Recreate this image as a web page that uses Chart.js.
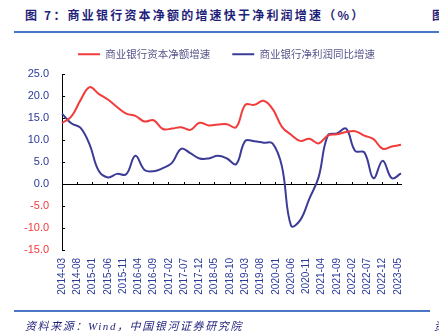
<!DOCTYPE html>
<html>
<head>
<meta charset="utf-8">
<script src="https://cdn.jsdelivr.net/npm/chart.js@4"></script>
<style>
    html, body { margin: 0; padding: 0; background: #fff; }
    body { width: 439px; height: 332px; position: relative; overflow: hidden; }
    .title { position: absolute; left: 25px; top: 6px; font: bold 12px 'Noto Sans CJK SC', sans-serif; color: #1f1f7a; letter-spacing: 2.2px; white-space: nowrap; }
    .edge-top { position: absolute; left: 432px; top: 6px; font: bold 12px 'Noto Sans CJK SC', sans-serif; color: #1f1f7a; }
    .rule { position: absolute; left: 14px; height: 2px; background: #4a76c6; }
    .source { position: absolute; left: 25px; top: 317px; font: italic 11px 'Liberation Serif', 'Noto Sans CJK SC', serif; color: #1f1f7a; letter-spacing: 1.6px; white-space: nowrap; }
    .edge-bottom { position: absolute; left: 434px; top: 317px; font: italic 11px 'Noto Sans CJK SC', serif; color: #1f1f7a; }
    .chart-box { position: absolute; left: 0; top: 0; width: 439px; height: 332px; }
</style>
</head>
<body>
<div class="title">图 7：商业银行资本净额的增速快于净利润增速（%）</div>
<div class="edge-top">图</div>
<div class="rule" style="top:31px; width:425px;"></div>
<div class="chart-box"><canvas id="bankChart"></canvas></div>
<div class="rule" style="top:310px; width:416px;"></div>
<div class="source">资料来源：Wind，中国银河证券研究院</div>
<div class="edge-bottom">资</div>

<script>
// monthly categories 2014-03 .. 2023-06, data is quarterly
const months = [];
for (let y = 2014, m = 3; y < 2023 || (y === 2023 && m <= 6); m++) {
    if (m > 12) { m = 1; y++; }
    months.push(y + '-' + String(m).padStart(2, '0'));
}

// quarter-end readings (03, 06, 09, 12), 2014Q1 .. 2023Q2
const capitalGrowth = [
    13.9, 15.3, 19.0, 22.0, 20.5, 19.2, 17.5, 16.0, 15.5, 14.2,
    14.5, 12.5, 12.6, 12.9, 12.3, 13.9, 13.3, 13.5, 13.6, 12.9,
    18.0, 18.0, 18.9, 17.0, 13.0, 11.2, 9.8, 10.3, 9.2, 11.0,
    11.3, 11.8, 12.0, 11.0, 10.2, 8.0, 8.5, 8.9
];
const profitGrowth = [
    16.0, 13.8, 12.8, 9.0, 3.0, 1.5, 2.3, 2.2, 6.4, 3.2,
    2.9, 3.6, 4.8, 8.0, 7.0, 5.8, 5.8, 6.4, 5.8, 4.5,
    9.8, 9.7, 9.4, 9.2, 4.0, -9.5, -8.2, -3.3, 1.5, 11.0,
    11.5, 12.6, 7.5, 7.2, 1.3, 5.3, 1.3, 2.4
];

const yMin = -15;
const yMax = 25;
const yStep = 5;

function toMonthly(quarterly) {
    const out = months.map(() => null);
    quarterly.forEach((v, q) => { out[q * 3] = v; });
    return out;
}

const navy = '#2b3a98';
const red = '#f03c3c';

// fixed legend height, and nudge the legend right to sit where the picture's does
const legendTweak = {
    id: 'legendTweak',
    beforeInit(chart) {
        const fit = chart.legend.fit;
        chart.legend.fit = function () {
            fit.bind(chart.legend)();
            this.height = 47;
        };
    },
    afterLayout(chart) {
        chart.legend.left += 22;
        chart.legend.right += 22;
    }
};

Chart.defaults.font.family = "'Liberation Sans', Arial, sans-serif";

new Chart(document.getElementById('bankChart'), {
    type: 'line',
    data: {
        labels: months,
        datasets: [
            {
                label: '商业银行资本净额增速',
                data: toMonthly(capitalGrowth),
                borderColor: '#f23c3c',
                backgroundColor: '#f23c3c',
                borderWidth: 2,
                pointRadius: 0,
                tension: 0.4,
                spanGaps: true,
                xAxisID: 'x'
            },
            {
                label: '商业银行净利润同比增速',
                data: toMonthly(profitGrowth),
                borderColor: '#3c3c98',
                backgroundColor: '#3c3c98',
                borderWidth: 2,
                pointRadius: 0,
                tension: 0.4,
                spanGaps: true,
                xAxisID: 'x'
            }
        ]
    },
    options: {
        responsive: true,
        maintainAspectRatio: false,
        animation: false,
        layout: { padding: { left: 8, right: 38, top: 27, bottom: 37 } },
        plugins: {
            legend: {
                position: 'top',
                labels: {
                    usePointStyle: true,
                    pointStyle: 'line',
                    pointStyleWidth: 22,
                    padding: 22,
                    color: '#55558a',
                    font: { family: "'Noto Sans CJK SC', sans-serif", size: 10.5 }
                }
            },
            tooltip: { enabled: false }
        },
        scales: {
            y: {
                min: yMin,
                max: yMax,
                ticks: {
                    stepSize: yStep,
                    padding: 16,
                    font: { size: 11 },
                    color: c => (c.tick && c.tick.value < 0) ? red : navy,
                    callback: v => Number(v).toFixed(1)
                },
                grid: { drawOnChartArea: false, tickLength: -3, tickColor: '#000' },
                border: { color: '#000', width: 1 }
            },
            x: {
                position: { y: 0 },
                ticks: { display: false },
                grid: {
                    drawOnChartArea: false,
                    tickLength: -3,
                    tickColor: c => c.index % 5 === 0 ? '#000' : 'rgba(0,0,0,0)'
                },
                border: { color: '#000', width: 1 }
            },
            x2: {
                type: 'category',
                position: 'bottom',
                ticks: {
                    autoSkip: false,
                    maxRotation: 90,
                    minRotation: 90,
                    padding: 8,
                    font: { size: 10 },
                    color: navy,
                    callback: (v, i) => i % 5 === 0 ? months[i] : ''
                },
                grid: { display: false, drawTicks: false },
                border: { display: false },
                afterFit: s => { s.height = 45; }
            }
        }
    },
    plugins: [legendTweak]
});
</script>
</body>
</html>
